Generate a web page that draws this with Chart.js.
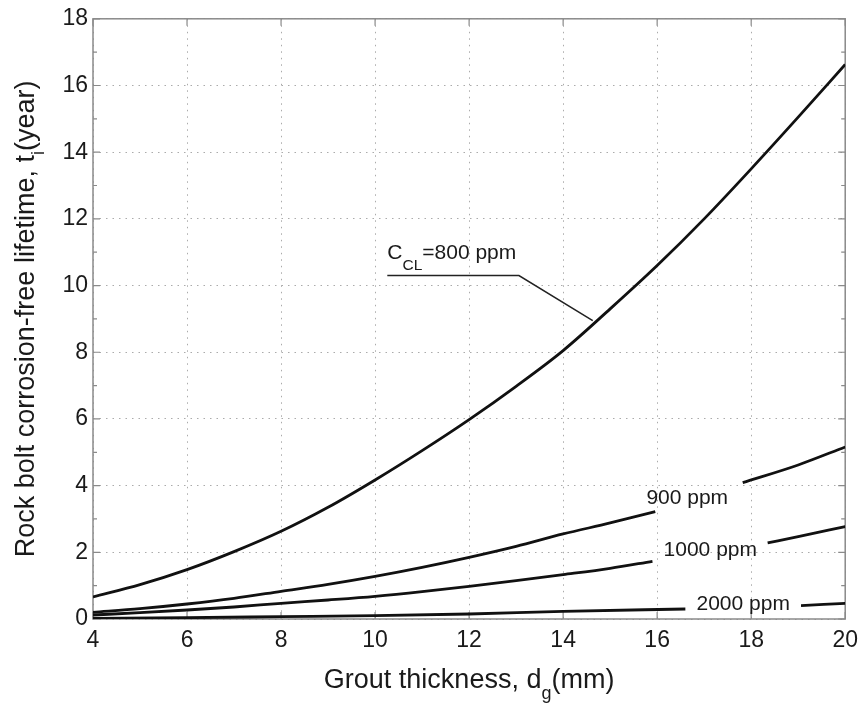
<!DOCTYPE html>
<html><head><meta charset="utf-8">
<script src="https://cdn.jsdelivr.net/npm/chart.js@4/dist/chart.umd.min.js"></script>
<style>html,body{margin:0;padding:0;background:#fff;}</style>
</head><body>
<canvas id="c" width="866" height="709"></canvas>
<script>
// ---- data ----
const xTicks = [4, 6, 8, 10, 12, 14, 16, 18, 20];
const yTicks = [0, 2, 4, 6, 8, 10, 12, 14, 16, 18];

const x800 = [4, 5, 6, 7, 8, 9, 10, 11, 12, 13, 14, 15, 16, 17, 18, 19, 20];
const y800 = [0.66, 1.03, 1.48, 2.02, 2.63, 3.35, 4.17, 5.05, 5.98, 6.98, 8.05, 9.3, 10.6, 12.0, 13.5, 15.05, 16.63];

const x900 = [4, 5, 6, 7, 8, 9, 10, 11, 12, 13, 14, 15, 15.96, 16.9, 17.82, 19, 20];
const y900 = [0.2, 0.31, 0.45, 0.62, 0.83, 1.04, 1.28, 1.55, 1.85, 2.18, 2.55, 2.88, 3.22, null, 4.09, 4.62, 5.16];

const x1000 = [4, 5, 6, 7, 8, 9, 10, 11, 12, 13, 14, 15, 15.9, 17.1, 18.35, 19, 20];
const y1000 = [0.12, 0.19, 0.27, 0.36, 0.47, 0.57, 0.68, 0.82, 0.98, 1.15, 1.33, 1.52, 1.73, null, 2.28, 2.47, 2.77];

const x2000 = [4, 6, 8, 10, 12, 14, 16.6, 17.8, 19.06, 20];
const y2000 = [0.02, 0.04, 0.07, 0.1, 0.15, 0.23, 0.3, null, 0.4, 0.47];

const seriesNames = ['800 ppm', '900 ppm', '1000 ppm', '2000 ppm'];
const xTitle = ['Grout thickness, d', 'g', '(mm)'];
const yTitle = ['Rock bolt corrosion-free lifetime, t', 'i', '(year)'];
const calloutLabel = ['C', 'CL', '=800 ppm'];
// inline label anchors (data coords)
const labelX = [16.64, 17.13, 17.83];
const labelY = [3.63, 2.07, 0.45];
const labelText = ['900 ppm', '1000 ppm', '2000 ppm'];
const leaderX = [10.26, 13.06, 14.63];
const leaderY = [10.3, 10.3, 8.95];
const calloutAnchor = [10.26, 10.8];

// ---- chart ----
const FONT = '"Liberation Sans", Arial, Helvetica, sans-serif';
const pts = (xs, ys) => xs.map((x, i) => ({x: x, y: ys[i]}));

function drawParts(ctx, parts, x, y) {
  let w = 0;
  parts.forEach(p => { ctx.font = p[1] + 'px ' + FONT; w += ctx.measureText(p[0]).width; });
  let cx = x - w / 2;
  parts.forEach(p => {
    ctx.font = p[1] + 'px ' + FONT;
    ctx.fillText(p[0], cx, y + p[2]);
    cx += ctx.measureText(p[0]).width;
  });
}
function drawPartsLeft(ctx, parts, x, y) {
  let cx = x;
  parts.forEach(p => {
    ctx.font = p[1] + 'px ' + FONT;
    ctx.fillText(p[0], cx, y + p[2]);
    cx += ctx.measureText(p[0]).width;
  });
}

const decor = {
  id: 'decor',
  beforeDatasetsDraw(chart) {
    const {ctx, chartArea: a, scales: {x, y}} = chart;
    ctx.save();
    ctx.strokeStyle = '#8a8a8a';
    ctx.lineWidth = 1.5;
    ctx.strokeRect(a.left, a.top, a.right - a.left, a.bottom - a.top);
    ctx.lineWidth = 1.2;
    ctx.beginPath();
    xTicks.forEach(v => {
      const px = x.getPixelForValue(v);
      ctx.moveTo(px, a.bottom); ctx.lineTo(px, a.bottom - 7);
      ctx.moveTo(px, a.top); ctx.lineTo(px, a.top + 7);
    });
    for (let v = 0; v <= 18; v++) {
      const py = y.getPixelForValue(v);
      const len = v % 2 === 0 ? 7 : 4;
      ctx.moveTo(a.left, py); ctx.lineTo(a.left + len, py);
      ctx.moveTo(a.right, py); ctx.lineTo(a.right - len, py);
    }
    ctx.stroke();
    ctx.restore();
  },
  afterDatasetsDraw(chart) {
    const {ctx, chartArea: a, scales: {x, y}} = chart;
    ctx.save();
    ctx.fillStyle = '#1a1a1a';
    ctx.textBaseline = 'alphabetic';
    // axis titles
    drawParts(ctx, [[xTitle[0], 27, 0], [xTitle[1], 18, 11], [xTitle[2], 27, 0]], (a.left + a.right) / 2, 688);
    ctx.save();
    ctx.translate(34, (a.top + a.bottom) / 2);
    ctx.rotate(-Math.PI / 2);
    drawParts(ctx, [[yTitle[0], 27, 0], [yTitle[1], 18, 10], [yTitle[2], 27, 0]], 0, 0);
    ctx.restore();
    // leader line
    ctx.strokeStyle = '#222';
    ctx.lineWidth = 1.5;
    ctx.beginPath();
    leaderX.forEach((v, i) => {
      const px = x.getPixelForValue(v), py = y.getPixelForValue(leaderY[i]);
      if (i === 0) ctx.moveTo(px, py); else ctx.lineTo(px, py);
    });
    ctx.stroke();
    // callout label
    drawPartsLeft(ctx, [[calloutLabel[0], 21, 0], [calloutLabel[1], 15.5, 11], [calloutLabel[2], 21, 0]],
      x.getPixelForValue(calloutAnchor[0]), y.getPixelForValue(calloutAnchor[1]));
    // inline labels
    ctx.font = '21px ' + FONT;
    ctx.textAlign = 'center';
    ctx.textBaseline = 'middle';
    labelText.forEach((t, i) => {
      ctx.fillText(t, x.getPixelForValue(labelX[i]), y.getPixelForValue(labelY[i]));
    });
    ctx.restore();
  }
};

const lineStyle = {borderColor: '#111', borderWidth: 2.8, pointRadius: 0, fill: false,
  cubicInterpolationMode: 'monotone', spanGaps: false};

new Chart(document.getElementById('c'), {
  type: 'line',
  data: {
    datasets: [
      Object.assign({label: seriesNames[0], data: pts(x800, y800)}, lineStyle),
      Object.assign({label: seriesNames[1], data: pts(x900, y900)}, lineStyle),
      Object.assign({label: seriesNames[2], data: pts(x1000, y1000)}, lineStyle),
      Object.assign({label: seriesNames[3], data: pts(x2000, y2000)}, lineStyle)
    ]
  },
  options: {
    responsive: false,
    animation: false,
    devicePixelRatio: 1,
    layout: {padding: {left: 0, right: 19, top: 14, bottom: 0}},
    plugins: {legend: {display: false}, tooltip: {enabled: false}},
    scales: {
      x: {
        type: 'linear', min: 4, max: 20,
        afterFit: s => { s.height = 90; },
        afterBuildTicks: s => { s.ticks = xTicks.map(v => ({value: v})); },
        grid: {color: '#ababab', lineWidth: 1, drawTicks: false},
        border: {display: false, dash: [1.5, 5]},
        ticks: {padding: 8, color: '#1a1a1a', font: {family: FONT, size: 23}, maxRotation: 0}
      },
      y: {
        type: 'linear', min: 0, max: 18,
        afterFit: s => { s.width = 93; },
        afterBuildTicks: s => { s.ticks = yTicks.map(v => ({value: v})); },
        grid: {color: '#ababab', lineWidth: 1, drawTicks: false},
        border: {display: false, dash: [1.5, 5]},
        ticks: {padding: 5, color: '#1a1a1a', font: {family: FONT, size: 23}}
      }
    }
  },
  plugins: [decor]
});
</script>
</body></html>
